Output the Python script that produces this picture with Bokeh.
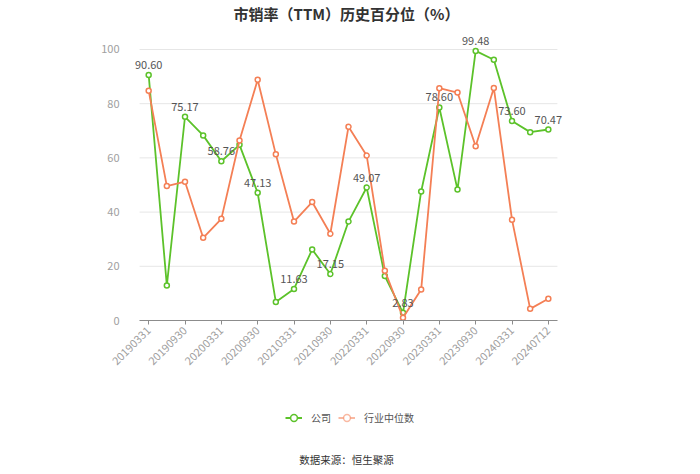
from bokeh.plotting import figure
from bokeh.layouts import column
from bokeh.models import (ColumnDataSource, Range1d, FixedTicker, LabelSet, Label,
                          Legend, LegendItem)
from bokeh.core.properties import value
from bokeh.embed import file_html
from bokeh.resources import INLINE

dates = ["20190331", "20190630", "20190930", "20191231", "20200331", "20200630",
         "20200930", "20201231", "20210331", "20210630", "20210930", "20211231",
         "20220331", "20220630", "20220930", "20221231", "20230331", "20230630",
         "20230930", "20231231", "20240331", "20240630", "20240712"]
company = [90.60, 12.9, 75.17, 68.3, 58.76, 64.8, 47.13, 6.8, 11.63, 26.2, 17.15, 36.5,
           49.07, 16.4, 2.83, 47.6, 78.60, 48.3, 99.48, 96.2, 73.60, 69.5, 70.47]
industry = [84.8, 49.6, 51.2, 30.5, 37.5, 66.4, 88.8, 61.3, 36.5, 43.7, 32.0, 71.5,
            60.9, 18.4, 1.0, 11.4, 85.7, 84.1, 64.3, 85.8, 37.2, 4.3, 8.0]
y_ticks = [0, 20, 40, 60, 80, 100]

FONT = "Noto Sans CJK SC"
GREEN = "#5cc22a"
ORANGE = "#f47f55"
LEFT = 130  # frame left edge shared by the stacked strips


def strip(height):
    f = figure(width=700, height=height, output_backend="svg", toolbar_location=None,
               x_range=Range1d(0, 1), y_range=Range1d(0, 1),
               min_border=0, min_border_left=LEFT, min_border_right=134,
               min_border_top=0, min_border_bottom=0)
    f.axis.visible = False
    f.grid.visible = False
    f.outline_line_color = None
    f.border_fill_color = "white"
    f.background_fill_color = "white"
    return f


n = len(dates)
idx = list(range(n))
src = ColumnDataSource(dict(x=idx, company=company, industry=industry))
lab_idx = idx[::2]
lab_src = ColumnDataSource(dict(x=lab_idx, y=[company[i] for i in lab_idx],
                                t=["%.2f" % company[i] for i in lab_idx]))

# ---- title strip ----
t = strip(30)
t.add_layout(Label(x=216, y=17, x_units="screen", y_units="screen",
                   text="市销率（TTM）历史百分位（%）", text_align="center",
                   text_baseline="middle", text_font=FONT, text_font_size="15px",
                   text_font_style="bold", text_color="#333333"))

# ---- main chart ----
p = figure(width=700, height=350, output_backend="svg", toolbar_location=None,
           x_range=Range1d(-1.0, n), y_range=Range1d(0, 107),
           min_border_left=LEFT, min_border_right=134, min_border_top=0,
           min_border_bottom=60)
p.outline_line_color = None
p.background_fill_color = "white"
p.border_fill_color = "white"

p.xgrid.visible = False
p.ygrid.visible = False
p.segment(x0=-0.5, x1=n - 0.5, y0=y_ticks, y1=y_ticks, line_color="#e6e6e6",
          line_width=1)

p.yaxis.ticker = FixedTicker(ticks=y_ticks)
p.yaxis.axis_line_color = None
p.yaxis.major_tick_line_color = None
p.yaxis.minor_tick_line_color = None
p.yaxis.major_label_text_color = "#a0a0a0"
p.yaxis.major_label_text_font = FONT
p.yaxis.major_label_text_font_size = "11px"
p.yaxis.major_label_standoff = 5

p.xaxis.ticker = FixedTicker(ticks=idx[::2])
p.xaxis.bounds = (-0.5, n - 0.5)
p.xaxis.major_label_overrides = {i: dates[i] for i in idx}
p.xaxis.axis_line_color = "#8c8c8c"
p.xaxis.major_tick_line_color = "#8c8c8c"
p.xaxis.major_tick_in = 0
p.xaxis.major_tick_out = 4
p.xaxis.minor_tick_line_color = None
p.xaxis.major_label_orientation = 0.785
p.xaxis.major_label_text_color = "#a0a0a0"
p.xaxis.major_label_text_font = FONT
p.xaxis.major_label_text_font_size = "11px"
p.xaxis.major_label_standoff = 4

p.line("x", "company", source=src, line_color=GREEN, line_width=1.8)
p.scatter("x", "company", source=src, size=5, line_color=GREEN,
          fill_color="white", line_width=1.5)
p.line("x", "industry", source=src, line_color=ORANGE, line_width=1.8)
p.scatter("x", "industry", source=src, size=5, line_color=ORANGE,
          fill_color="white", line_width=1.5)

labels = LabelSet(x="x", y="y", text="t", source=lab_src, y_offset=6,
                  text_align="center", text_baseline="bottom",
                  text_font=value(FONT), text_font_size=value("11px"),
                  text_color="#555555")
p.add_layout(labels)

# ---- legend + source strip ----
q = strip(94)
gl = q.line("x", "company", source=src, line_color=GREEN, line_width=2, visible=False)
gs = q.scatter("x", "company", source=src, line_color=GREEN, fill_color="white",
               line_width=1.5, visible=False)
ol = q.line("x", "industry", source=src, line_color=ORANGE, line_width=2,
            line_alpha=0.55, visible=False)
os_ = q.scatter("x", "industry", source=src, line_color=ORANGE, fill_color="white",
                line_width=1.5, line_alpha=0.55, visible=False)

legend = Legend(items=[LegendItem(label="公司", renderers=[gl, gs]),
                       LegendItem(label="行业中位数", renderers=[ol, os_])],
                orientation="horizontal", location=(155, 48),
                glyph_width=17, glyph_height=17, label_height=12,
                label_standoff=9, spacing=7, padding=0, margin=0,
                border_line_color=None, background_fill_alpha=0,
                label_text_font=FONT, label_text_font_size="10px",
                label_text_color="#555555")
q.add_layout(legend)

q.add_layout(Label(x=216, y=15, x_units="screen", y_units="screen",
                   text="数据来源：恒生聚源", text_align="center",
                   text_baseline="middle", text_font=FONT, text_font_size="10.5px",
                   text_color="#333333"))

layout = column(t, p, q, spacing=0)
open("out.html", "w").write(file_html(layout, INLINE))
